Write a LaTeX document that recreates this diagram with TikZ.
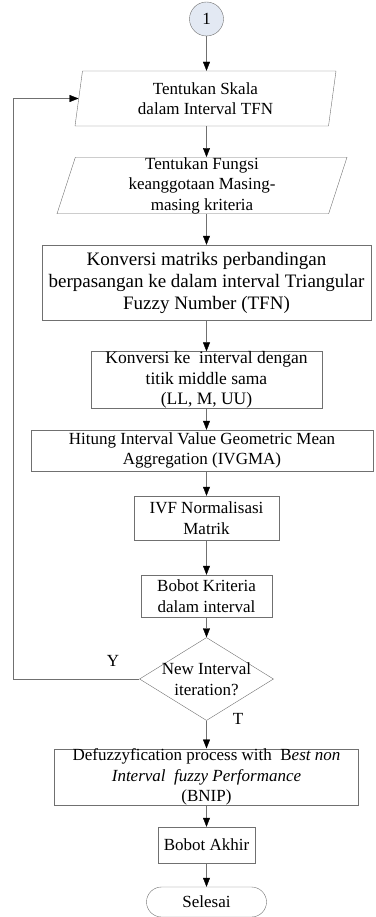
\documentclass[tikz,border=0pt]{standalone}
\usepackage{fontspec}
\setmainfont{Liberation Serif}
\usetikzlibrary{shapes.geometric, shapes.misc, arrows.meta}

\definecolor{linegray}{HTML}{707070}
\definecolor{circfill}{HTML}{E3E9F3}

\newcommand{\txtscl}{\fontsize{17}{20.5}\selectfont}
\newcommand{\pn}{\node[trapezium, draw=linegray, thin, trapezium stretches body, inner sep=0pt, align=center, font=\txtscl]}
\newcommand{\bx}{\node[rectangle, draw=linegray, thin, inner sep=0pt, align=center, font=\txtscl]}
\newcommand{\dn}{\node[diamond, draw=linegray, thin, inner sep=0pt]}
\newcommand{\tn}{\node[rounded rectangle, draw=linegray, thin, inner sep=0pt, font=\txtscl]}
\newcommand{\cn}{\node[circle, draw=linegray, thin, fill=circfill, inner sep=0pt, font=\txtscl]}

\begin{document}
\begin{tikzpicture}[x=1pt, y=-1pt,
    arr/.style={-{Triangle[width=7pt, length=9pt, black]}, linegray, thin}]
            \useasboundingbox (0,0) rectangle (375,917);

            \cn (c1) at (206.5,19) [minimum size=34pt] {1};
            \pn (par1) at (205.5,98.5) [minimum width=261pt, minimum height=55pt,
                trapezium left angle=77, trapezium right angle=103]
                {Tentukan Skala\\dalam Interval TFN};
            \pn (par2) at (202,185.5) [minimum width=290pt, minimum height=55pt,
                trapezium left angle=72, trapezium right angle=108]
                {Tentukan Fungsi\\keanggotaan Masing-\\masing kriteria};
            \bx (b3) at (206.5,282.5) [minimum width=329pt, minimum height=75pt,
                font=\fontsize{19}{22}\selectfont]
                {Konversi matriks perbandingan\\berpasangan ke dalam interval Triangular\\Fuzzy Number (TFN)};
            \bx (b4) at (206.5,380) [minimum width=231pt, minimum height=56pt,
                font=\fontsize{17.5}{20.5}\selectfont]
                {Konversi ke\ \ interval dengan\\titik middle sama\\(LL, M, UU)};
            \bx (b5) at (202,450.5) [minimum width=342pt, minimum height=41pt]
                {Hitung Interval Value Geometric Mean\\Aggregation (IVGMA)};
            \bx (b6) at (206.5,518) [minimum width=145pt, minimum height=44pt]
                {IVF Normalisasi\\Matrik};
            \bx (b7) at (206.5,596) [minimum width=131pt, minimum height=42pt]
                {Bobot Kriteria\\dalam interval};
            \dn (dia) at (206.5,679) [minimum width=134pt, minimum height=83pt,
                label={[align=center, font=\txtscl]center:New Interval\\iteration?}] {};
            \bx (b8) at (206.5,777) [minimum width=304pt, minimum height=56pt]
                {Defuzzyfication process with\ \ B\textit{est non}\\\textit{Interval\ \ fuzzy Performance}\\(BNIP)};
            \bx (b9) at (206.5,845) [minimum width=97pt, minimum height=36pt]
                {Bobot Akhir};
            \tn (end) at (206.5,902) [minimum width=120pt, minimum height=30pt]
                {Selesai};

            \node[font=\txtscl] (ly) at (113,661) {Y};
            \node[font=\txtscl] (lt) at (238,719) {T};

            \coordinate (fb) at (13,679);

            \draw[arr] (c1) -- (c1.south |- par1.north);
            \draw[arr] (c1.south |- par1.south) -- (c1.south |- par2.north);
            \draw[arr] (c1.south |- par2.south) -- (b3);
            \draw[arr] (b3) -- (b4);
            \draw[arr] (b4) -- (b4.south |- b5.north);
            \draw[arr] (b4.south |- b5.south) -- (b6);
            \draw[arr] (b6) -- (b7);
            \draw[arr] (b7) -- (dia);
            \draw[arr] (dia) -- (b8);
            \draw[arr] (b8) -- (b9);
            \draw[arr] (b9) -- (end);

            \draw[arr]
                (dia.west) -- (fb) |- (par1.left side)
                ;
        \end{tikzpicture}
\end{document}
